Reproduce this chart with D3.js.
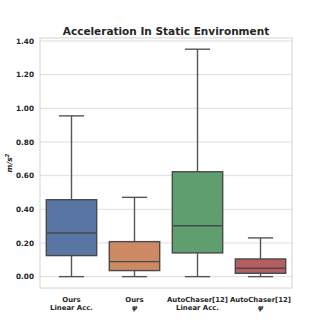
<!DOCTYPE html>
<html>
<head>
<meta charset="utf-8">
<script src="https://cdn.jsdelivr.net/npm/d3@7"></script>
<style>
  body { margin: 0; background: #fff; }
  svg { display: block; }
</style>
</head>
<body>
<svg id="chart"></svg>
<script>
// categories (two label lines each)
const categories = ["Ours\nLinear Acc.", "Ours\nψ", "AutoChaser[12]\nLinear Acc.", "AutoChaser[12]\nψ"];
// box stats
const whiskLow = [0.0, 0.0, 0.0, 0.0];
const q1 = [0.125, 0.036, 0.141, 0.02];
const median = [0.259, 0.089, 0.302, 0.05];
const q3 = [0.457, 0.208, 0.623, 0.105];
const whiskHigh = [0.955, 0.471, 1.351, 0.23];
const yTicks = [0, 0.2, 0.4, 0.6, 0.8, 1.0, 1.2, 1.4];
const colors = ["#5975a4", "#cc8963", "#5f9e6e", "#b55d60"];

const W = 325, H = 325;
const margin = { top: 38, right: 33, bottom: 37, left: 40 };

const data = categories.map((c, i) => ({
  cat: c, lo: whiskLow[i], q1: q1[i], med: median[i], q3: q3[i], hi: whiskHigh[i], color: colors[i]
}));

const svg = d3.select("#chart")
  .attr("width", W)
  .attr("height", H)
  .attr("font-family", "DejaVu Sans, sans-serif");

const x = d3.scaleBand()
  .domain(categories)
  .range([margin.left, W - margin.right])
  .paddingInner(0)
  .paddingOuter(0);

const y = d3.scaleLinear()
  .domain([-0.0675, 1.4175])
  .range([H - margin.bottom, margin.top]);

// grid
svg.append("g")
  .selectAll("line")
  .data(yTicks)
  .join("line")
  .attr("x1", margin.left)
  .attr("x2", W - margin.right)
  .attr("y1", d => y(d))
  .attr("y2", d => y(d))
  .attr("stroke", "#dedede")
  .attr("stroke-width", 1);

// frame
svg.append("rect")
  .attr("x", margin.left)
  .attr("y", margin.top)
  .attr("width", W - margin.left - margin.right)
  .attr("height", H - margin.top - margin.bottom)
  .attr("fill", "none")
  .attr("stroke", "#d4d4d4")
  .attr("stroke-width", 1);

// y tick labels
const yAxis = d3.axisLeft(y).tickValues(yTicks).tickSize(0).tickPadding(6).tickFormat(d3.format(".2f"));
svg.append("g")
  .attr("transform", `translate(${margin.left},0)`)
  .call(yAxis)
  .call(g => g.select(".domain").remove())
  .call(g => g.selectAll("text")
    .attr("font-family", "DejaVu Sans, sans-serif")
    .attr("font-size", 7.3)
    .attr("font-weight", "bold")
    .attr("fill", "#262626"));

// boxes
const boxW = x.bandwidth() * 0.8;
const capW = boxW / 2;
const edge = "#555555";

const box = svg.selectAll("g.box")
  .data(data)
  .join("g")
  .attr("class", "box")
  .attr("transform", d => `translate(${x(d.cat) + x.bandwidth() / 2},0)`);

box.append("line")
  .attr("x1", 0).attr("x2", 0)
  .attr("y1", d => y(d.q3)).attr("y2", d => y(d.hi))
  .attr("stroke", edge).attr("stroke-width", 1.4);
box.append("line")
  .attr("x1", 0).attr("x2", 0)
  .attr("y1", d => y(d.q1)).attr("y2", d => y(d.lo))
  .attr("stroke", edge).attr("stroke-width", 1.4);
box.append("line")
  .attr("x1", -capW / 2).attr("x2", capW / 2)
  .attr("y1", d => y(d.hi)).attr("y2", d => y(d.hi))
  .attr("stroke", edge).attr("stroke-width", 1.4);
box.append("line")
  .attr("x1", -capW / 2).attr("x2", capW / 2)
  .attr("y1", d => y(d.lo)).attr("y2", d => y(d.lo))
  .attr("stroke", edge).attr("stroke-width", 1.4);
box.append("rect")
  .attr("x", -boxW / 2)
  .attr("width", boxW)
  .attr("y", d => y(d.q3))
  .attr("height", d => y(d.q1) - y(d.q3))
  .attr("fill", d => d.color)
  .attr("stroke", "#4a4a4a")
  .attr("stroke-width", 1.4);
box.append("line")
  .attr("x1", -boxW / 2).attr("x2", boxW / 2)
  .attr("y1", d => y(d.med)).attr("y2", d => y(d.med))
  .attr("stroke", "#4a4a4a").attr("stroke-width", 1.4);

// x labels
const xl = svg.append("g")
  .selectAll("text")
  .data(categories)
  .join("text")
  .attr("x", d => x(d) + x.bandwidth() / 2)
  .attr("y", 301.5)
  .attr("text-anchor", "middle")
  .attr("font-size", 6.9)
  .attr("font-weight", "bold")
  .attr("fill", "#262626");
xl.each(function (d) {
  const parts = d.split("\n");
  const t = d3.select(this);
  parts.forEach((p, i) => {
    t.append("tspan")
      .attr("x", t.attr("x"))
      .attr("dy", i === 0 ? 0 : 8.4)
      .attr("font-style", p === "ψ" ? "italic" : null)
      .text(p);
  });
});

// title
svg.append("text")
  .attr("x", (margin.left + W - margin.right) / 2)
  .attr("y", 35)
  .attr("text-anchor", "middle")
  .attr("font-size", 10.5)
  .attr("font-weight", "bold")
  .attr("fill", "#262626")
  .text("Acceleration In Static Environment");

// y label
const yl = svg.append("text")
  .attr("transform", `translate(12,${(margin.top + H - margin.bottom) / 2}) rotate(-90)`)
  .attr("text-anchor", "middle")
  .attr("font-size", 7.5)
  .attr("font-weight", "bold")
  .attr("font-style", "italic")
  .attr("fill", "#262626");
yl.append("tspan").text("m/s");
yl.append("tspan").attr("dy", -3).attr("font-size", 5.5).text("2");
</script>
</body>
</html>
